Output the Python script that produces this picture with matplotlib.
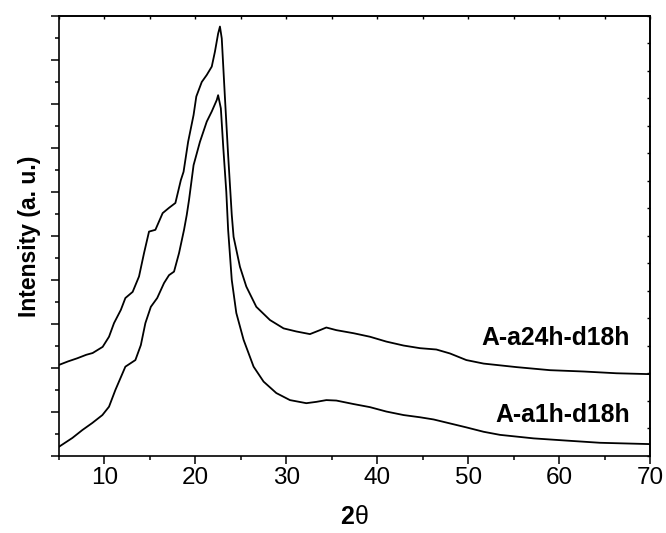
import matplotlib
matplotlib.use("Agg")
import matplotlib.pyplot as plt
from matplotlib.ticker import MultipleLocator, NullFormatter

plt.rcParams['font.family'] = ['Liberation Sans', 'DejaVu Sans']

# XRD pattern, sample A-a24h-d18h (offset upward)
two_theta_a24 = [5, 6, 7, 8, 8.7, 9.8, 10.5, 11.05, 11.8, 12.3, 13.1, 13.8, 14.35, 14.9, 15.6,
                 16.4, 17.1, 17.8, 18.4, 18.7, 19.2, 19.8, 20.1, 20.7, 21.25, 21.8, 22.15, 22.5,
                 22.7, 22.9, 23.25, 23.6, 24.0, 24.2, 24.9, 25.6, 26.7, 28.2, 29.7, 31.1, 32.6,
                 33.7, 34.4, 35.5, 37.4, 39.2, 41.0, 42.9, 44.7, 46.5, 48.0, 49.8, 51.7, 55.3,
                 59.0, 62.7, 66.3, 70]
intensity_a24 = [2.07, 2.15, 2.22, 2.3, 2.34, 2.48, 2.71, 3.02, 3.32, 3.59, 3.73, 4.08, 4.61, 5.1,
                 5.14, 5.52, 5.64, 5.75, 6.27, 6.46, 7.14, 7.75, 8.17, 8.5, 8.66, 8.85, 9.19, 9.6,
                 9.76, 9.49, 8.14, 6.84, 5.48, 4.98, 4.3, 3.85, 3.39, 3.09, 2.9, 2.83, 2.77, 2.86,
                 2.92, 2.86, 2.79, 2.71, 2.6, 2.51, 2.45, 2.42, 2.33, 2.18, 2.1, 2.02, 1.95, 1.92,
                 1.88, 1.86]

# XRD pattern, sample A-a1h-d18h
two_theta_a1 = [5, 6.47, 7.57, 8.66, 9.77, 10.5, 11.2, 12.3, 13.4, 14.0, 14.5, 15.1, 15.8, 16.55,
                17.1, 17.65, 18.2, 18.75, 19.05, 19.3, 19.8, 20.5, 21.25, 21.8, 22.35, 22.5, 22.8,
                23.07, 23.4, 23.6, 24.0, 24.5, 25.3, 26.4, 27.5, 28.9, 30.4, 32.2, 33.3, 34.4,
                35.5, 37.4, 39.2, 41.0, 42.9, 44.7, 46.2, 48.0, 49.8, 51.7, 53.5, 57.2, 60.8,
                64.5, 70]
intensity_a1 = [0.21, 0.41, 0.59, 0.75, 0.93, 1.12, 1.5, 2.03, 2.18, 2.52, 3.02, 3.39, 3.59, 3.93,
                4.11, 4.19, 4.61, 5.14, 5.48, 5.82, 6.61, 7.14, 7.6, 7.83, 8.09, 8.2, 7.9, 7.0,
                6.0, 5.14, 4.0, 3.25, 2.64, 2.03, 1.69, 1.43, 1.27, 1.2, 1.23, 1.27, 1.26, 1.18,
                1.11, 1.01, 0.93, 0.88, 0.83, 0.74, 0.65, 0.55, 0.48, 0.4, 0.35, 0.3, 0.27]

series_labels = ["A-a24h-d18h", "A-a1h-d18h"]
label_pos = [(67.8, 2.68), (67.8, 0.93)]
x_ticks = [10, 20, 30, 40, 50, 60, 70]

fig = plt.figure(figsize=(6.66, 5.33), dpi=100)
ax = fig.add_axes([0.0886, 0.1445, 0.8874, 0.8255])

ax.plot(two_theta_a24, intensity_a24, color='black', lw=1.3)
ax.plot(two_theta_a1, intensity_a1, color='black', lw=1.3)

for text, (tx, ty) in zip(series_labels, label_pos):
    ax.text(tx, ty, text, ha='right', va='center', fontsize=17.8, fontweight='bold')

ax.set_xlim(5, 70)
ax.set_ylim(0, 10)
ax.set_xticks(x_ticks)
ax.xaxis.set_minor_locator(MultipleLocator(5))
ax.yaxis.set_major_locator(MultipleLocator(1))
ax.yaxis.set_minor_locator(MultipleLocator(0.5))
ax.yaxis.set_major_formatter(NullFormatter())
ax.tick_params(which='major', direction='out', length=6, width=1.1, labelsize=17.5, pad=2)
ax.tick_params(which='minor', direction='out', length=3, width=1.1)
for sp in ax.spines.values():
    sp.set_linewidth(1.2)

# small inward ticks along the top and right frame
top = ax.secondary_xaxis('top')
top.xaxis.set_major_locator(MultipleLocator(5))
top.xaxis.set_major_formatter(NullFormatter())
top.tick_params(direction='in', length=2.5, width=1.0)
top.spines['top'].set_linewidth(1.2)
right = ax.secondary_yaxis('right', functions=(lambda v: v * 1.6, lambda v: v / 1.6))
right.yaxis.set_major_locator(MultipleLocator(1))
right.yaxis.set_major_formatter(NullFormatter())
right.tick_params(direction='in', length=2.5, width=1.0)
right.spines['right'].set_linewidth(1.2)

# axis titles
fig.text(0.532, 0.03, "2", ha='right', va='center', fontsize=18, fontweight='bold')
fig.text(0.532, 0.03, "θ", ha='left', va='center', fontsize=18)
fig.text(0.045, 0.557, "Intensity (a. u.)", ha='center', va='center', rotation=90,
         fontsize=16.5, fontweight='bold')

fig.savefig("out.png", dpi=100)
